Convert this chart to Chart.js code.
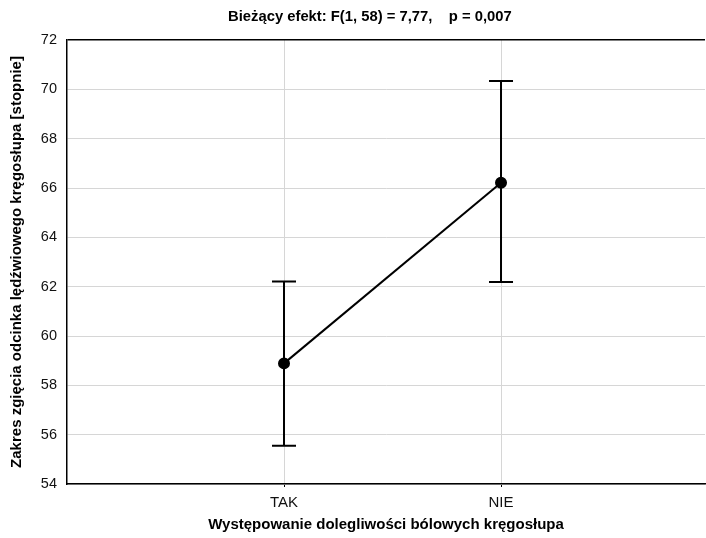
<!DOCTYPE html>
<html>
<head>
<meta charset="utf-8">
<script src="https://cdn.jsdelivr.net/npm/chart.js@4/dist/chart.umd.min.js"></script>
<style>
html,body{margin:0;padding:0;background:#fff;}
#wrap{width:706px;height:538px;position:relative;}
</style>
</head>
<body>
<div id="wrap"><canvas id="c" width="706" height="538"></canvas></div>
<script>
const categories = ['TAK', 'NIE'];
const means = [58.89, 66.21];
const lowerCI = [55.55, 62.19];
const upperCI = [62.21, 70.34];
const yTicks = [54, 56, 58, 60, 62, 64, 66, 68, 70, 72];
const titleText = 'Bieżący efekt: F(1, 58) = 7,77,    p = 0,007';
const xTitle = 'Występowanie dolegliwości bólowych kręgosłupa';
const yTitle = 'Zakres zgięcia odcinka lędźwiowego kręgosłupa [stopnie]';

const FONT = '"Liberation Sans", Arial, sans-serif';

const points = categories.map((c, i) => ({x: i + 1, y: means[i]}));

const errorBars = {
  id: 'errorBars',
  beforeDatasetsDraw(chart) {
    const ctx = chart.ctx, xs = chart.scales.x, ys = chart.scales.y;
    ctx.save();
    ctx.strokeStyle = '#000';
    ctx.lineWidth = 2;
    categories.forEach((c, i) => {
      const px = xs.getPixelForValue(i + 1);
      const pl = ys.getPixelForValue(lowerCI[i]);
      const pu = ys.getPixelForValue(upperCI[i]);
      ctx.beginPath();
      ctx.moveTo(px, pl); ctx.lineTo(px, pu);
      ctx.moveTo(px - 12, pl); ctx.lineTo(px + 12, pl);
      ctx.moveTo(px - 12, pu); ctx.lineTo(px + 12, pu);
      ctx.stroke();
    });
    ctx.restore();
  }
};

const topTitle = {
  id: 'topTitle',
  afterDraw(chart) {
    const ctx = chart.ctx, a = chart.chartArea;
    ctx.save();
    ctx.font = 'bold 14.8px ' + FONT;
    ctx.fillStyle = '#000';
    ctx.textAlign = 'left';
    ctx.textBaseline = 'middle';
    ctx.fillText(titleText, 228, 17);
    ctx.restore();
  }
};

new Chart(document.getElementById('c'), {
  type: 'line',
  data: {
    datasets: [{
      data: points,
      borderColor: '#000',
      backgroundColor: '#000',
      borderWidth: 2,
      pointRadius: 5,
      pointHoverRadius: 5,
      pointBackgroundColor: '#000',
      pointBorderColor: '#000',
      tension: 0
    }]
  },
  options: {
    responsive: false,
    animation: false,
    layout: {autoPadding: false, padding: {top: 40, right: 1, left: 0, bottom: 0}},
    plugins: {legend: {display: false}, tooltip: {enabled: false}, title: {display: false}},
    scales: {
      x: {
        type: 'linear',
        min: 0,
        max: 2.94,
        afterBuildTicks(scale) { scale.ticks = categories.map((c, i) => ({value: i + 1})); },
        afterFit(scale) { scale.height = 54; },
        ticks: {
          callback: (v) => categories[v - 1] || '',
          color: '#111',
          font: {family: FONT, size: 15},
          padding: 7,
          maxRotation: 0
        },
        grid: {color: '#d6d6d6', lineWidth: 1, drawTicks: true, tickLength: 3, tickColor: '#000'},
        border: {color: '#000', width: 1.5},
        title: {
          display: true,
          text: xTitle,
          color: '#000',
          font: {family: FONT, size: 15, weight: 'bold'},
          padding: {top: 0, bottom: 4}
        }
      },
      y: {
        min: 54,
        max: 72,
        afterBuildTicks(scale) { scale.ticks = yTicks.map(v => ({value: v})); },
        afterFit(scale) { scale.width = 67; },
        ticks: {
          color: '#111',
          font: {family: FONT, size: 14.5},
          padding: 10
        },
        grid: {
          color: (c) => (c.tick && c.tick.value === 72) ? '#000' : '#d6d6d6',
          lineWidth: (c) => (c.tick && c.tick.value === 72) ? 1.5 : 1,
          drawTicks: false
        },
        border: {color: '#000', width: 1.5},
        title: {
          display: true,
          text: yTitle,
          color: '#000',
          font: {family: FONT, size: 15, weight: 'bold'},
          padding: {top: 8, bottom: 0}
        }
      }
    }
  },
  plugins: [errorBars, topTitle]
});
</script>
</body>
</html>
